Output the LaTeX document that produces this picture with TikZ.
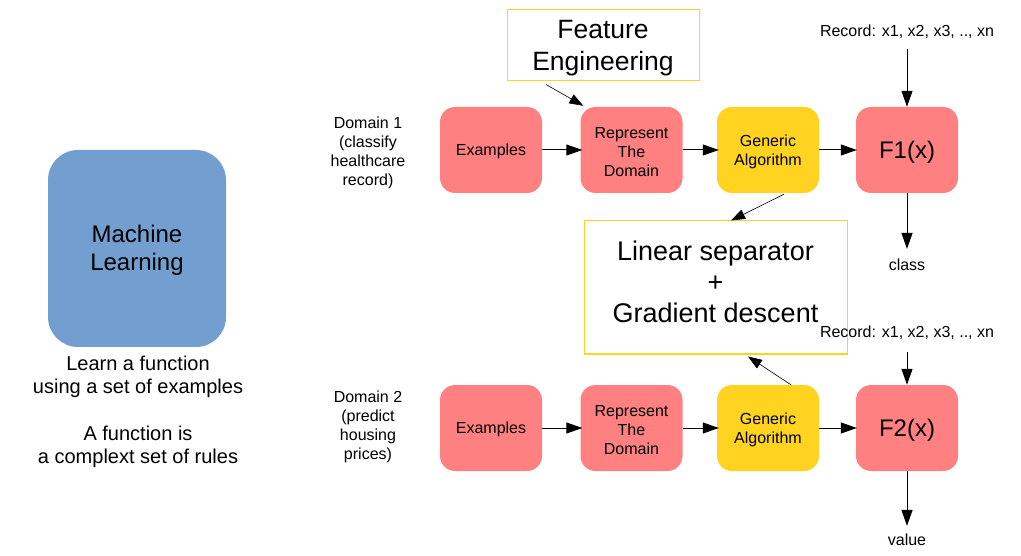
\documentclass[tikz,border=0pt]{standalone}
\usepackage{fontspec}
\setmainfont{Liberation Sans}
\usetikzlibrary{arrows.meta,calc}
\definecolor{pinkbox}{HTML}{FF8080}
\definecolor{goldbox}{HTML}{FFD320}
\definecolor{bluebox}{HTML}{729FCF}
\newcommand{\fsz}[2]{\fontsize{#1}{#2}\selectfont}
\newcommand{\ts}[1][1em]{\rule{0pt}{#1}}
\tikzset{
  pbox/.style={fill=pinkbox, draw=none, rounded corners=15pt, minimum width=102pt, minimum height=86pt, inner sep=0pt, align=center, font=\fsz{16}{19}},
  gbox/.style={pbox, fill=goldbox},
  fbox/.style={pbox, font=\fsz{24}{28}},
  obox/.style={draw=goldbox, line width=1pt, fill=white, inner sep=0pt, align=center},
  lbl/.style={inner sep=0pt, align=center, font=\fsz{16}{19}},
  arr/.style={-{Triangle[length=16pt,width=11pt]}, line width=1pt},
  thin arr/.style={-{Triangle[length=14pt,width=10pt]}, line width=0.6pt},
}
\begin{document}
\begin{tikzpicture}[x=1pt,y=-1pt]
\useasboundingbox (0,0) rectangle (1021,556);
% left block
\node[fill=bluebox, rounded corners=30pt, minimum width=178pt, minimum height=197pt, inner sep=0pt, align=center, font=\fsz{24}{28}] (ml) at (137,248.5) {\ts[0.86em]Machine\\Learning};
\node[lbl, font=\fsz{20}{23.3}] (mltext) at (138,409) {\ts[1.03em]Learn a function\\using a set of examples\\[23.3pt]A function is\\a complext set of rules};
% domain labels
\node[lbl] (d1) at (368,151) {\ts Domain 1\\(classify\\healthcare\\record)};
\node[lbl] (d2) at (368,425) {\ts Domain 2\\(predict\\housing\\prices)};
% top row
\node[pbox] (ex1) at (491,150) {\ts[0.9em]Examples};
\node[pbox] (rep1) at (631.5,150) {\ts[0.92em]Represent\\The\\Domain};
\node[gbox] (gen1) at (768,150) {\ts Generic\\Algorithm};
\node[fbox] (f1) at (907,150) {\ts[0.9em]F1(x)};
% bottom row
\node[pbox] (ex2) at (491,428) {\ts[0.9em]Examples};
\node[pbox] (rep2) at (631.5,428) {\ts[0.92em]Represent\\The\\Domain};
\node[gbox] (gen2) at (768,428) {\ts Generic\\Algorithm};
\node[fbox] (f2) at (907,428) {\ts[0.9em]F2(x)};
% outlined boxes
\node[obox, minimum width=192pt, minimum height=71pt, font=\fsz{26.5}{32}] (fe) at (603,45.5) {\ts[0.88em]Feature\\Engineering};
\node[obox, minimum width=263pt, minimum height=133pt] (lin) at (715.5,287.5) {};
\node[lbl, font=\fsz{27}{31}] (lintxt) at ([yshift=6pt]lin.center) {Linear separator\\+\\Gradient descent};
% record labels
\node[lbl] (rec1) at (907,30) {\ts Record: x1, x2, x3, .., xn};
\node[lbl] (rec2) at (907,331) {\ts Record: x1, x2, x3, .., xn};
\node[lbl] (cls) at (907,265) {class};
\node[lbl] (val) at (907,540) {value};
% arrows
\draw[arr] (ex1) -- ([xshift=2pt]rep1.west);
\draw[arr] (rep1) -- ([xshift=2pt]gen1.west);
\draw[arr] (gen1) -- ([xshift=1pt]f1.west);
\draw[arr] (ex2) -- ([xshift=2pt]rep2.west);
\draw[arr] (rep2) -- ([xshift=2pt]gen2.west);
\draw[arr] (gen2) -- ([xshift=1pt]f2.west);
\draw[arr, shorten <=10pt] (rec1.south) -- (f1.north);
\draw[arr, shorten <=12pt] (rec2.south) -- (f2.north);
\draw[arr, shorten >=10pt] (f1.south) -- (cls.north);
\draw[arr, shorten >=8pt] (f2.south) -- (val.north);
\draw[thin arr] ([xshift=-57pt,yshift=-3pt]fe.south) -- ([xshift=3pt,yshift=1pt]rep1.north west);
\draw[thin arr] ([xshift=16pt,yshift=-1pt]gen1.south) -- ([xshift=15.5pt]lin.north);
\draw[thin arr] ([xshift=23pt]gen2.north) -- ([xshift=32.5pt,yshift=-2pt]lin.south);
\end{tikzpicture}
\end{document}
